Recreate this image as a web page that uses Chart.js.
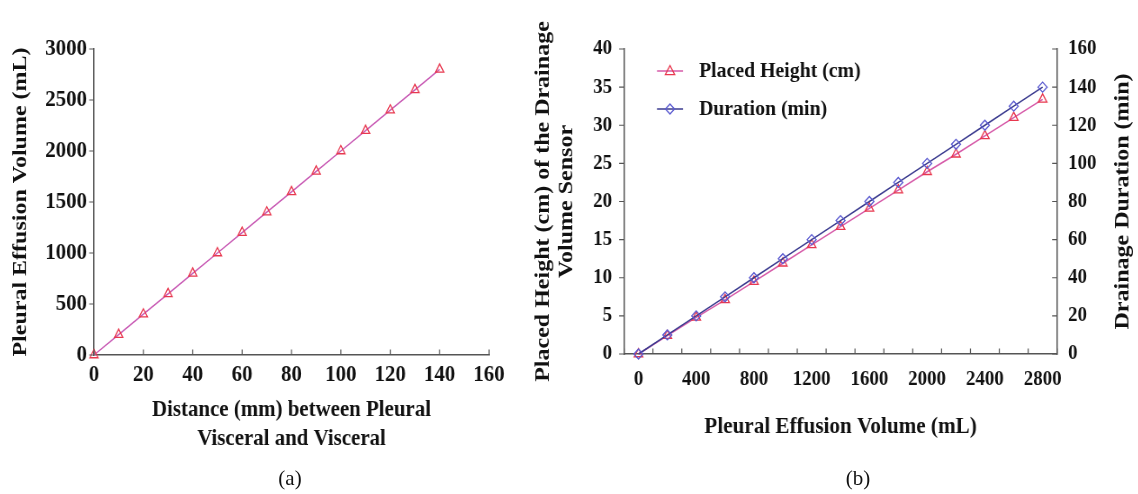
<!DOCTYPE html>
<html><head><meta charset="utf-8">
<script src="https://cdn.jsdelivr.net/npm/chart.js@4.4.1/dist/chart.umd.min.js"></script>
<style>
html,body{margin:0;padding:0;background:#fff;}
body{width:1138px;height:494px;position:relative;overflow:hidden;font-family:"Liberation Serif",serif;}
.wrap{position:absolute;top:0;transform-origin:0 0;}
.lbl{position:absolute;font-size:21px;transform:translate(-50%,-50%);color:#111;line-height:1;}
</style></head><body>
<div class="wrap" style="left:0;width:598px;height:494px;transform:scaleX(0.87)"><canvas id="ca" width="598" height="494"></canvas></div>
<div class="wrap" style="left:520px;width:687px;height:494px;transform:scaleX(0.9)"><canvas id="cb" width="687" height="494"></canvas></div>
<div class="lbl" style="left:290px;top:478px">(a)</div>
<div class="lbl" style="left:858px;top:478px">(b)</div>
<script>
// ---- data (a) ----
const distanceMm = [0,10,20,30,40,50,60,70,80,90,100,110,120,130,140];
const effusionMl = [0,200,400,600,800,1000,1200,1400,1600,1800,2000,2200,2400,2600,2800];
// ---- data (b) ----
const volumeCategories = ['0','200','400','600','800','1000','1200','1400','1600','1800','2000','2200','2400','2600','2800'];
const placedHeightCm = [0,2.4,4.8,7.1,9.5,11.9,14.3,16.7,19.1,21.5,23.9,26.2,28.6,31.0,33.4];
const durationMin = [0,10,20,30,40,50,60,70,80,90,100,110,120,130,140];

const SERIF = '"Liberation Serif", "Times New Roman", serif';
const AXIS = '#555';
const INK = '#111';
Chart.defaults.font.family = SERIF;
Chart.defaults.color = INK;

// inward / outward tick marks, positions taken from the scales
const tickMarks = {
  id: 'tickMarks',
  afterDatasetsDraw(chart, args, opts) {
    const ctx = chart.ctx, L = opts.len || 5.5;
    ctx.save();
    ctx.strokeStyle = AXIS; ctx.lineWidth = 1.2;
    for (const [id, dir] of Object.entries(opts.dirs || {})) {
      const s = chart.scales[id];
      const pix = [];
      if (s.type === 'category') {
        for (let i = 0; i <= s.ticks.length; i++) pix.push(s.getPixelForValue(i - 0.5));
      } else {
        s.ticks.forEach((t, i) => pix.push(s.getPixelForTick(i)));
      }
      ctx.beginPath();
      for (const p of pix) {
        if (s.isHorizontal()) {
          const y = s.top;
          ctx.moveTo(p, y); ctx.lineTo(p, dir === 'in' ? y - L : y + L);
        } else if (s.position === 'left') {
          const x = s.right;
          ctx.moveTo(x, p); ctx.lineTo(dir === 'in' ? x + L : x - L, p);
        } else {
          const x = s.left;
          ctx.moveTo(x, p); ctx.lineTo(dir === 'in' ? x - L : x + L, p);
        }
      }
      ctx.stroke();
    }
    ctx.restore();
  }
};

// right-hand axis title reading bottom-to-top
const rightTitle = {
  id: 'rightTitle',
  afterDraw(chart, args, opts) {
    if (!opts.text) return;
    const s = chart.scales[opts.scale];
    const ctx = chart.ctx;
    ctx.save();
    ctx.translate(s.right - opts.offset, (s.top + s.bottom) / 2);
    ctx.rotate(-Math.PI / 2);
    ctx.font = 'bold ' + opts.size + 'px ' + SERIF;
    ctx.fillStyle = INK; ctx.textAlign = 'center'; ctx.textBaseline = 'middle';
    ctx.fillText(opts.text, 0, 0);
    ctx.restore();
  }
};

function drawMarker(ctx, style, x, y, r, color) {
  ctx.save();
  ctx.strokeStyle = color; ctx.lineWidth = 1.3;
  ctx.beginPath();
  if (style === 'triangle') {
    ctx.moveTo(x, y - r);
    ctx.lineTo(x + r * 0.95, y + r * 0.65);
    ctx.lineTo(x - r * 0.95, y + r * 0.65);
    ctx.closePath();
  } else {
    ctx.moveTo(x, y - r); ctx.lineTo(x + r, y); ctx.lineTo(x, y + r); ctx.lineTo(x - r, y); ctx.closePath();
  }
  ctx.stroke();
  ctx.restore();
}

// legend inside the plot area
const innerLegend = {
  id: 'innerLegend',
  afterDraw(chart, args, opts) {
    const ctx = chart.ctx;
    chart.data.datasets.forEach((ds, i) => {
      const y = opts.y0 + i * opts.dy;
      ctx.save();
      ctx.strokeStyle = ds.borderColor; ctx.lineWidth = 1.5;
      ctx.beginPath(); ctx.moveTo(opts.x1, y); ctx.lineTo(opts.x2, y); ctx.stroke();
      drawMarker(ctx, ds.pointStyle, (opts.x1 + opts.x2) / 2, y, ds.pointRadius, ds.pointBorderColor);
      ctx.font = 'bold ' + opts.size + 'px ' + SERIF;
      ctx.fillStyle = INK; ctx.textAlign = 'left'; ctx.textBaseline = 'middle';
      ctx.fillText(ds.label, opts.tx, y);
      ctx.restore();
    });
  }
};

const plain = v => String(v);

// ---------- chart (a) ----------
new Chart(document.getElementById('ca'), {
  type: 'line',
  data: {
    datasets: [{
      label: 'Pleural Effusion Volume',
      data: distanceMm.map((d, i) => ({x: d, y: effusionMl[i]})),
      borderColor: '#c85ab4', borderWidth: 1.5, tension: 0,
      pointStyle: 'triangle', pointRadius: 5.5, pointBorderWidth: 1.3,
      pointBorderColor: '#e8384f', pointBackgroundColor: 'rgba(255,255,255,0)',
      clip: false
    }]
  },
  options: {
    responsive: false, animation: false,
    layout: {padding: {top: 49, right: 35.9, bottom: 0, left: 0}},
    plugins: {legend: {display: false}, tooltip: {enabled: false},
      tickMarks: {dirs: {x: 'in', y: 'out'}, len: 5.5}},
    scales: {
      x: {
        type: 'linear', min: 0, max: 160,
        afterFit: s => { s.height = 139; },
        grid: {display: false, drawTicks: false},
        border: {display: true, color: AXIS, width: 1.5},
        ticks: {stepSize: 20, padding: 5.6, maxRotation: 0, color: INK, font: {size: 24, weight: 'bold'}, callback: plain},
        title: {display: true, text: ['Distance (mm) between Pleural', 'Visceral and Visceral'],
          color: INK, font: {size: 24, weight: 'bold', lineHeight: 1.2}, padding: {top: 0, bottom: 40.8}}
      },
      y: {
        type: 'linear', min: 0, max: 3000,
        afterFit: s => { s.width = 108; },
        grid: {display: false, drawTicks: false},
        border: {display: true, color: AXIS, width: 1.5},
        ticks: {stepSize: 500, padding: 8, color: INK, font: {size: 24, weight: 'bold'}, callback: plain},
        title: {display: true, text: 'Pleural Effusion Volume (mL)',
          color: INK, font: {size: 24, weight: 'bold', lineHeight: 1.2}, padding: {top: 9.7, bottom: 0}}
      }
    }
  },
  plugins: [tickMarks]
});

// ---------- chart (b) ----------
new Chart(document.getElementById('cb'), {
  type: 'line',
  data: {
    labels: volumeCategories,
    datasets: [{
      label: 'Placed Height (cm)',
      data: placedHeightCm, yAxisID: 'y', order: 1,
      borderColor: '#d65aa8', borderWidth: 1.5, tension: 0,
      pointStyle: 'triangle', pointRadius: 5.5, pointBorderWidth: 1.3,
      pointBorderColor: '#e8384f', pointBackgroundColor: 'rgba(255,255,255,0)',
      clip: false
    }, {
      label: 'Duration (min)',
      data: durationMin, yAxisID: 'y2', order: 0,
      borderColor: '#3b3b8f', borderWidth: 1.5, tension: 0,
      pointStyle: 'rectRot', pointRadius: 5, pointBorderWidth: 1.3,
      pointBorderColor: '#5a5ad0', pointBackgroundColor: 'rgba(255,255,255,0)',
      clip: false
    }]
  },
  options: {
    responsive: false, animation: false,
    layout: {padding: {top: 49, right: 0, bottom: 0, left: 0}},
    plugins: {
      legend: {display: false}, tooltip: {enabled: false},
      tickMarks: {dirs: {x: 'in', y: 'out', y2: 'in'}, len: 5.5},
      rightTitle: {text: 'Drainage Duration (min)', scale: 'y2', offset: 17, size: 24},
      innerLegend: {x1: 152.2, x2: 181.1, tx: 198.9, y0: 71, dy: 38, size: 22}
    },
    scales: {
      x: {
        type: 'category', offset: true,
        afterFit: s => { s.height = 140; },
        grid: {display: false, drawTicks: false, offset: true},
        border: {display: true, color: AXIS, width: 1.5},
        ticks: {autoSkip: false, maxRotation: 0, padding: 13.4, color: INK,
          font: {size: 21, weight: 'bold'},
          callback: (v, i) => (i % 2 === 0 ? volumeCategories[i] : '')},
        title: {display: true, text: 'Pleural Effusion Volume (mL)', color: INK,
          font: {size: 23.5, weight: 'bold', lineHeight: 1.2}, padding: {top: 0, bottom: 52.9}}
      },
      y: {
        type: 'linear', position: 'left', min: 0, max: 40,
        afterFit: s => { s.width = 115.6; },
        grid: {display: false, drawTicks: false},
        border: {display: true, color: AXIS, width: 1.5},
        ticks: {stepSize: 5, padding: 13.4, color: INK, font: {size: 21, weight: 'bold'}, callback: plain},
        title: {display: true, text: ['Placed Height (cm) of the Drainage', 'Volume Sensor'], color: INK,
          font: {size: 24, weight: 'bold', lineHeight: 1.1}, padding: {top: 12.4, bottom: 0}}
      },
      y2: {
        type: 'linear', position: 'right', min: 0, max: 160,
        afterFit: s => { s.width = 90.3; },
        grid: {display: false, drawTicks: false},
        border: {display: true, color: AXIS, width: 1.5},
        ticks: {stepSize: 20, padding: 12.2, color: INK, font: {size: 21, weight: 'bold'}, callback: plain}
      }
    }
  },
  plugins: [tickMarks, rightTitle, innerLegend]
});
</script>
</body></html>
